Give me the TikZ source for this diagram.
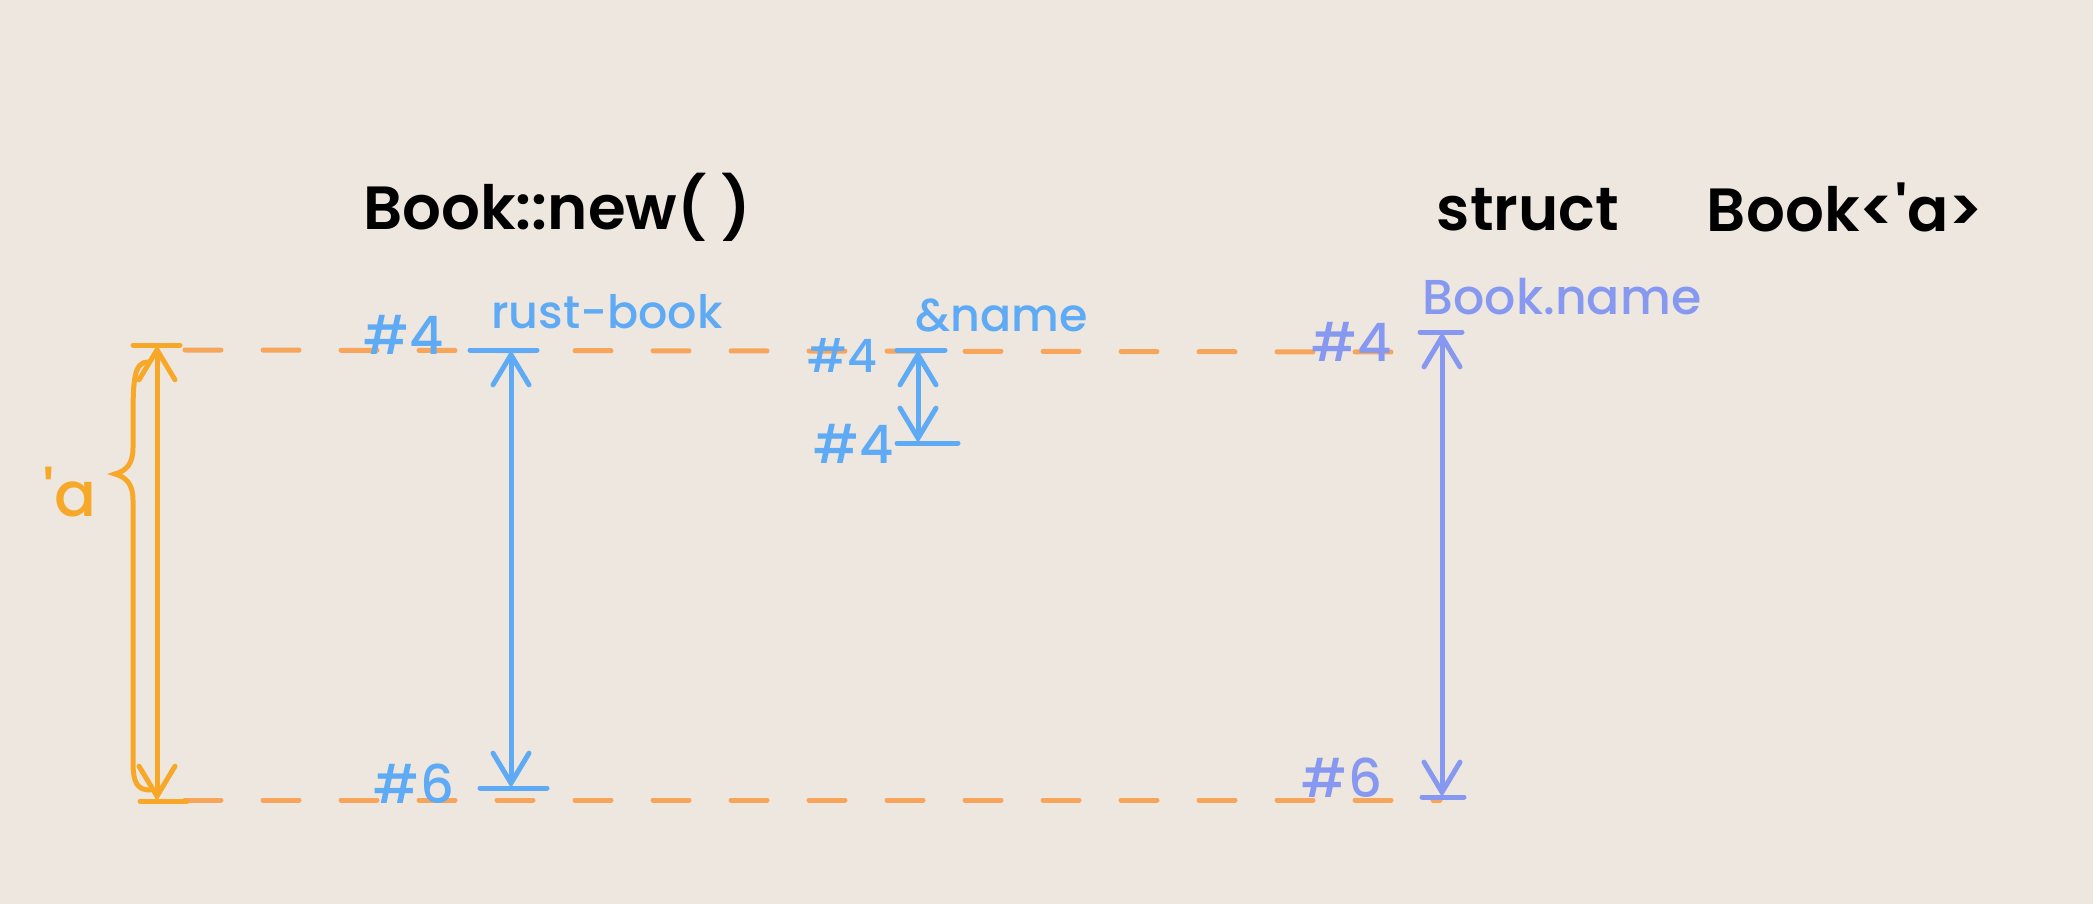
\documentclass[tikz,border=0pt]{standalone}
\usepackage{fontspec}
\setmainfont{Poppins}
\newfontfamily\pmed{Poppins Medium}
\newfontfamily\psemi{Poppins SemiBold}
\usetikzlibrary{arrows.meta}
\definecolor{bg}{RGB}{237,231,223}
\definecolor{org}{RGB}{248,168,40}
\definecolor{dorg}{RGB}{247,165,90}
\definecolor{blu}{RGB}{95,170,245}
\definecolor{pur}{RGB}{135,152,240}
\begin{document}
\begin{tikzpicture}[x=1pt,y=-1pt,
  ln/.style={line width=5pt,line cap=round},
  dsh/.style={dorg,line width=5pt,line cap=round,dash pattern=on 36pt off 42pt},
  dbl/.style={ln,{Straight Barb[length=30pt,width=36pt,line cap=round]}-{Straight Barb[length=30pt,width=36pt,line cap=round]}},
  lbl/.style={inner sep=0pt,font=\fontsize{46}{46}\selectfont\pmed},
  hsh/.style={inner sep=0pt,font=\fontsize{53}{53}\selectfont\pmed},
  ttl/.style={inner sep=0pt,font=\fontsize{61}{61}\selectfont\psemi,text=black}]
\fill[bg] (0,0) rectangle (2093,904);
\useasboundingbox (0,0) rectangle (2093,904);
% coordinates
\coordinate (dT1) at (185,350); \coordinate (dT2) at (1420,352);
\coordinate (dB1) at (185,800); \coordinate (dB2) at (1440,800);
\coordinate (oT) at (157,345); \coordinate (oB) at (157,801);
\coordinate (oTl) at (133,345); \coordinate (oTr) at (180,345);
\coordinate (oBl) at (140,801); \coordinate (oBr) at (187,801);
\coordinate (aT) at (511,350); \coordinate (aB) at (511,788);
\coordinate (aTl) at (470,350); \coordinate (aTr) at (537,350);
\coordinate (aBl) at (480,788); \coordinate (aBr) at (547,788);
\coordinate (mT) at (918,350); \coordinate (mB) at (918,443);
\coordinate (mTl) at (897,350); \coordinate (mTr) at (945,350);
\coordinate (mBl) at (897,443); \coordinate (mBr) at (958,443);
\coordinate (pT) at (1442,332); \coordinate (pB) at (1442,797);
\coordinate (pTl) at (1420,332); \coordinate (pTr) at (1462,332);
\coordinate (pBl) at (1422,797); \coordinate (pBr) at (1464,797);
% dashed lifetime bounds
\draw[dsh] (dT1) -- (dT2);
\draw[dsh] (dB1) -- (dB2);
% orange lifetime
\draw[org,ln] (oTl) -- (oTr);
\draw[org,ln] (oBl) -- (oBr);
\draw[org,dbl] (oT) -- (oB);
\draw[org,line width=5pt,line cap=round] (148,362) .. controls (134,362) and (133,380) .. (133,420) -- (133,448) .. controls (133,464) and (126,471) .. (115,474) .. controls (126,477) and (133,484) .. (133,500) -- (133,762) .. controls (133,784) and (138,790) .. (150,790);
\node[inner sep=0pt,text=org,font=\fontsize{62}{62}\selectfont\pmed] (alab) at (70,492) {\textquotesingle a};
% titles
\node[ttl] (t1) at (557,207) {Book::new( )};
\node[ttl] (t2) at (1528,210) {struct};
\node[ttl] (t3) at (1845,207) {Book<\textquotesingle a>};
% blue rust-book
\draw[blu,ln] (aTl) -- (aTr);
\draw[blu,ln] (aBl) -- (aBr);
\draw[blu,dbl] (aT) -- (aB);
\node[hsh,text=blu] (h4a) at (404,335) {\#4};
\node[lbl,text=blu] (rb) at (607,312) {rust-book};
\node[hsh,text=blu] (h6a) at (414,784) {\#6};
% blue &name
\draw[blu,ln] (mTl) -- (mTr);
\draw[blu,ln] (mBl) -- (mBr);
\draw[blu,dbl] (mT) -- (mB);
\node[lbl,text=blu] (h4b) at (842,355) {\#4};
\node[lbl,text=blu] (amp) at (1002,315) {\&name};
\node[hsh,text=blu] (h4c) at (854,444) {\#4};
% purple Book.name
\draw[pur,ln] (pTl) -- (pTr);
\draw[pur,ln] (pBl) -- (pBr);
\draw[pur,dbl] (pT) -- (pB);
\node[hsh,text=pur] (h4d) at (1352,342) {\#4};
\node[inner sep=0pt,text=pur,font=\fontsize{49}{49}\selectfont\pmed] (bn) at (1562,297) {Book.name};
\node[hsh,text=pur] (h6d) at (1342,778) {\#6};
\end{tikzpicture}
\end{document}
